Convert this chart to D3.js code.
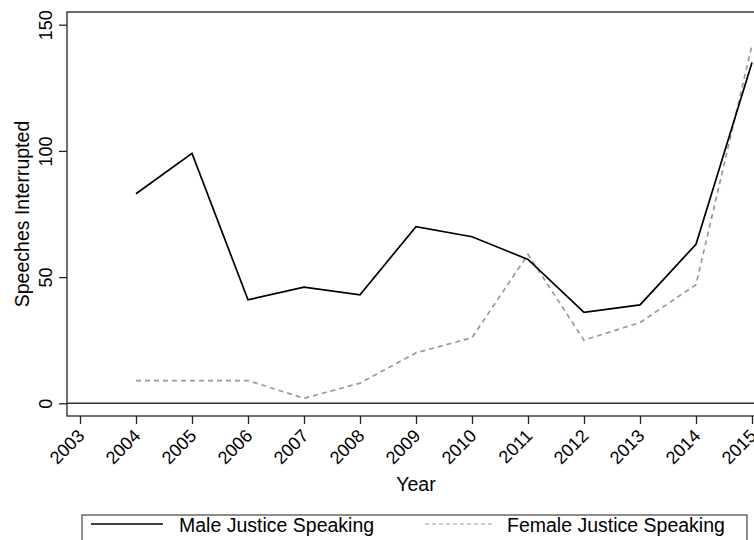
<!DOCTYPE html>
<html>
<head>
<meta charset="utf-8">
<script src="https://cdn.jsdelivr.net/npm/d3@7"></script>
<style>
  body { margin: 0; background: #fff; }
  svg { display: block; }
  text { font-family: "Liberation Sans", Arial, Helvetica, sans-serif; fill: #000; }
</style>
</head>
<body>
<svg id="chart" width="754" height="540"></svg>
<script>
const years = [2004, 2005, 2006, 2007, 2008, 2009, 2010, 2011, 2012, 2013, 2014, 2015];
const maleValues = [83, 99, 41, 46, 43, 70, 66, 57, 36, 39, 63, 135];
const femaleValues = [9, 9, 9, 2, 8, 20, 26, 59, 25, 32, 47, 142];
const xTicks = [2003, 2004, 2005, 2006, 2007, 2008, 2009, 2010, 2011, 2012, 2013, 2014, 2015];
const yTicks = [0, 50, 100, 150];
const seriesNames = ["Male Justice Speaking", "Female Justice Speaking"];

const svg = d3.select("#chart");
const frame = { left: 67, top: 12, right: 760, bottom: 416 };

const x = d3.scaleLinear().domain([2003, 2015]).range([80, 752]);
const y = d3.scaleLinear().domain([0, 150]).range([403.3, 24.7]);

// Plot region border
svg.append("rect")
  .attr("x", frame.left).attr("y", frame.top)
  .attr("width", frame.right - frame.left).attr("height", frame.bottom - frame.top)
  .attr("fill", "none").attr("stroke", "#222").attr("stroke-width", 1.3);

// zero reference line
svg.append("line")
  .attr("x1", frame.left).attr("x2", frame.right)
  .attr("y1", y(0)).attr("y2", y(0))
  .attr("stroke", "#333").attr("stroke-width", 1.4);

// Y axis
const yAxis = svg.append("g")
  .attr("transform", `translate(${frame.left},0)`)
  .call(d3.axisLeft(y).tickValues(yTicks).tickSize(8).tickPadding(0).tickFormat(d3.format("d")));
yAxis.select(".domain").remove();
yAxis.selectAll(".tick line").attr("stroke", "#222").attr("stroke-width", 1.3);
yAxis.selectAll(".tick text")
  .attr("x", null).attr("dy", null)
  .attr("text-anchor", "middle")
  .attr("transform", "translate(-15,0) rotate(-90)")
  .style("font-size", "18px")
  .style("font-family", "'Liberation Sans', Arial, sans-serif")
  .attr("fill", "#000");

// X axis
const xAxis = svg.append("g")
  .attr("transform", `translate(0,${frame.bottom})`)
  .call(d3.axisBottom(x).tickValues(xTicks).tickSize(8).tickPadding(0).tickFormat(d3.format("d")));
xAxis.select(".domain").remove();
xAxis.selectAll(".tick line").attr("stroke", "#222").attr("stroke-width", 1.3);
xAxis.selectAll(".tick text")
  .attr("y", null).attr("dy", null)
  .attr("text-anchor", "end")
  .attr("transform", "translate(5,21) rotate(-45)")
  .style("font-size", "18px")
  .style("font-family", "'Liberation Sans', Arial, sans-serif")
  .attr("fill", "#000");

// Axis titles
svg.append("text")
  .attr("transform", `translate(29,${(frame.top + frame.bottom) / 2}) rotate(-90)`)
  .attr("text-anchor", "middle")
  .style("font-size", "19.5px")
  .text("Speeches Interrupted");

svg.append("text")
  .attr("x", 416).attr("y", 491)
  .attr("text-anchor", "middle")
  .style("font-size", "19.5px")
  .text("Year");

// Lines
const line = d3.line().x(d => x(d[0])).y(d => y(d[1]));
const femaleData = years.map((yr, i) => [yr, femaleValues[i]]);
const maleData = years.map((yr, i) => [yr, maleValues[i]]);

svg.append("path")
  .datum(femaleData)
  .attr("d", line)
  .attr("fill", "none")
  .attr("stroke", "#9a9a9a")
  .attr("stroke-width", 1.7)
  .attr("stroke-dasharray", "5,4");

svg.append("path")
  .datum(maleData)
  .attr("d", line)
  .attr("fill", "none")
  .attr("stroke", "#000")
  .attr("stroke-width", 1.7);

// Legend
const legend = svg.append("g");
legend.append("rect")
  .attr("x", 82).attr("y", 515)
  .attr("width", 665).attr("height", 40)
  .attr("fill", "#fff").attr("stroke", "#444").attr("stroke-width", 1.2);

legend.append("line")
  .attr("x1", 91).attr("x2", 163).attr("y1", 524).attr("y2", 524)
  .attr("stroke", "#000").attr("stroke-width", 1.7);
legend.append("text")
  .attr("x", 179).attr("y", 532)
  .style("font-size", "19.5px")
  .text(seriesNames[0]);

legend.append("line")
  .attr("x1", 425).attr("x2", 494).attr("y1", 524).attr("y2", 524)
  .attr("stroke", "#9a9a9a").attr("stroke-width", 1.2)
  .attr("stroke-dasharray", "4,3");
legend.append("text")
  .attr("x", 507).attr("y", 532)
  .style("font-size", "19.5px")
  .text(seriesNames[1]);
</script>
</body>
</html>
